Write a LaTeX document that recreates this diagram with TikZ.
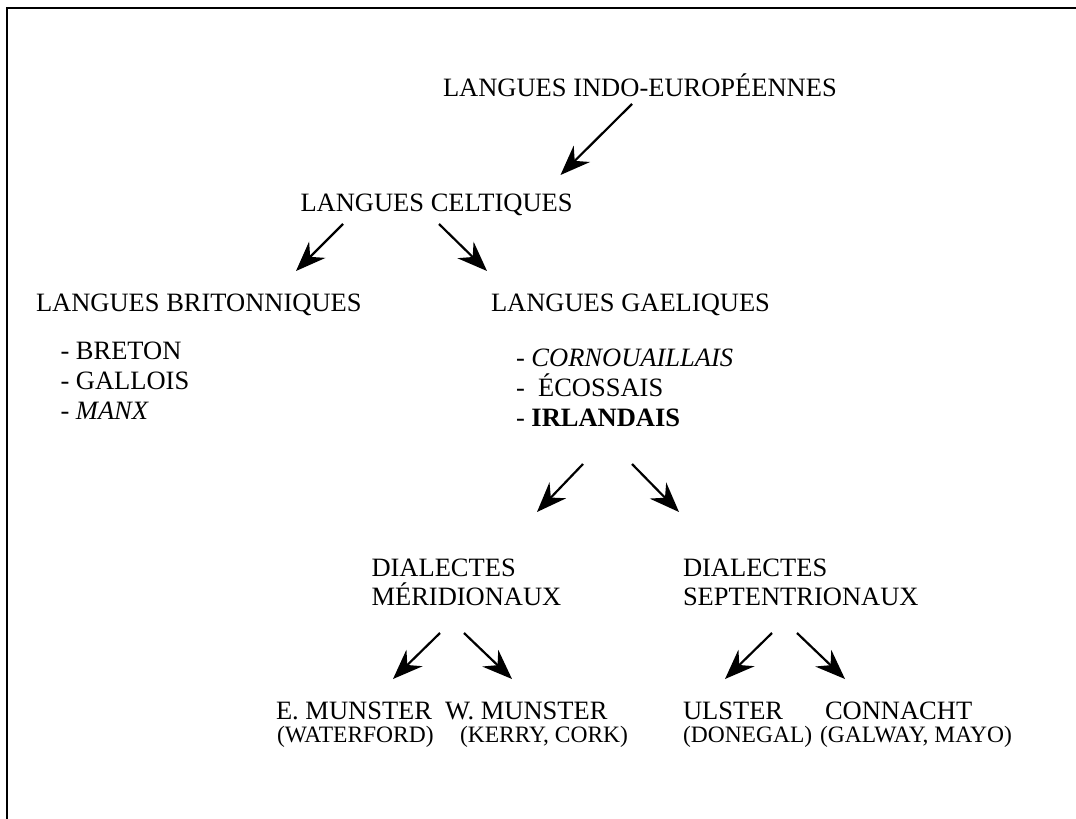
\documentclass[tikz,border=0pt]{standalone}
\usepackage{fontspec}
\setmainfont{Liberation Serif}
\usetikzlibrary{arrows.meta}
\tikzset{
  lbl/.style={anchor=base west, inner sep=0pt, outer sep=0pt, font=\fontsize{26.5}{29.5}\selectfont},
  sub/.style={anchor=base west, inner sep=0pt, outer sep=0pt, font=\fontsize{23.5}{26}\selectfont},
  arr/.style={line width=2.2pt, -{Stealth[length=30pt, width=23pt, inset=10pt]}},
  frame/.style={line width=2.4pt}
}
\begin{document}
\begin{tikzpicture}[x=1pt, y=-1pt]
\useasboundingbox (0,0) rectangle (1076,819);
\draw[frame] (1076,8) -- (7,8) -- (7,819);

\node[lbl] (ie) at (443,96) {LANGUES INDO-EUROPÉENNES};
\node[lbl] (celt) at (300.5,211.5) {LANGUES CELTIQUES};
\node[lbl] (brit) at (36,311) {LANGUES BRITONNIQUES};
\node[lbl] (gael) at (491,311) {LANGUES GAELIQUES};

\node[lbl] (bre) at (60.5,359.5) {- BRETON};
\node[lbl] (gal) at (60.5,389.5) {- GALLOIS};
\node[lbl] (manx) at (60.5,419) {- \textit{MANX}};

\node[lbl] (corn) at (516,366.5) {- \textit{CORNOUAILLAIS}};
\node[lbl] (ecos) at (516,396.5) {-\ \ ÉCOSSAIS};
\node[lbl] (irl) at (516,426) {- \textbf{IRLANDAIS}};

\node[lbl] (dm1) at (371.5,576) {DIALECTES};
\node[lbl] (dm2) at (371.5,605.5) {MÉRIDIONAUX};
\node[lbl] (ds1) at (683,576) {DIALECTES};
\node[lbl] (ds2) at (683,605.5) {SEPTENTRIONAUX};

\node[lbl] (em) at (276,719) {E. MUNSTER};
\node[sub] (emp) at (277,742) {(WATERFORD)};
\node[lbl] (wm) at (445,719) {W. MUNSTER};
\node[sub] (wmp) at (460,742) {(KERRY, CORK)};
\node[lbl] (ul) at (683,719) {ULSTER};
\node[sub] (ulp) at (683,742) {(DONEGAL)};
\node[lbl] (co) at (825,719) {CONNACHT};
\node[sub] (cop) at (820,742) {(GALWAY, MAYO)};

\coordinate (a1s) at (632,104);   \coordinate (a1e) at (560.5,175);
\coordinate (a2s) at (343,224);   \coordinate (a2e) at (296,271);
\coordinate (a3s) at (439,224);   \coordinate (a3e) at (487,271);
\coordinate (a4s) at (583,464);   \coordinate (a4e) at (537,512);
\coordinate (a5s) at (632,464);   \coordinate (a5e) at (679,512);
\coordinate (a6s) at (440,633);   \coordinate (a6e) at (393,679);
\coordinate (a7s) at (464,633);   \coordinate (a7e) at (512,679);
\coordinate (a8s) at (772,633);   \coordinate (a8e) at (725,679);
\coordinate (a9s) at (797,633);   \coordinate (a9e) at (845,679);

\draw[arr] (a1s) -- (a1e);
\draw[arr] (a2s) -- (a2e);
\draw[arr] (a3s) -- (a3e);
\draw[arr] (a4s) -- (a4e);
\draw[arr] (a5s) -- (a5e);
\draw[arr] (a6s) -- (a6e);
\draw[arr] (a7s) -- (a7e);
\draw[arr] (a8s) -- (a8e);
\draw[arr] (a9s) -- (a9e);
\end{tikzpicture}
\end{document}
